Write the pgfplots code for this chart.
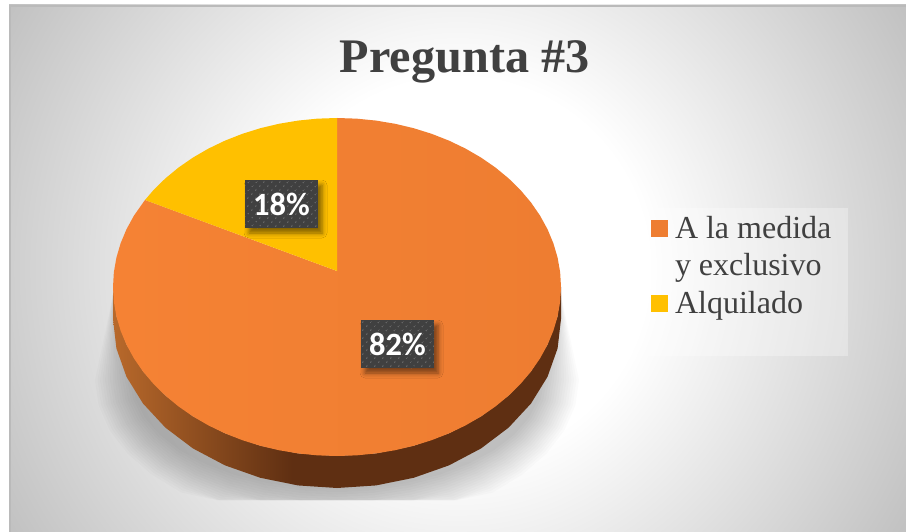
\documentclass[border=0pt]{standalone}
\usepackage{fontspec}
\setmainfont{Liberation Serif}
\newfontfamily\labfont{Carlito}
\usepackage{pgfplots}
\usepackage{pgfplotstable}
\pgfplotsset{compat=1.18}
\usetikzlibrary{patterns.meta,shadows.blur}

\definecolor{txt}{HTML}{404040}
\definecolor{orangeA}{HTML}{F58234}
\definecolor{orangeB}{HTML}{EE7D31}
\definecolor{amber}{HTML}{FFC000}
\definecolor{sideA}{HTML}{B8692B}
\definecolor{sideB}{HTML}{5F2F12}
\definecolor{labbox}{HTML}{404040}

\pgfdeclareradialshading{bgglow}{\pgfpointorigin}{color(0bp)=(white); color(9bp)=(white); color(25bp)=(black!25); color(50bp)=(black!25)}
\pgfdeclarehorizontalshading{rim}{100bp}{color(0bp)=(sideA); color(25bp)=(sideA); color(45bp)=(sideB); color(100bp)=(sideB)}

% outline rows: t = angle clockwise from the top, r = 0 at the apex, 1 on the rim
\pgfplotstableread[row sep=\\]{
t r\\ 0 0\\ 0 1\\ 5 1\\ 10 1\\ 15 1\\ 20 1\\ 25 1\\ 30 1\\ 35 1\\ 40 1\\ 45 1\\ 50 1\\ 55 1\\ 60 1\\ 65 1\\ 70 1\\ 75 1\\ 80 1\\ 85 1\\ 90 1\\ 95 1\\ 100 1\\ 105 1\\ 110 1\\ 115 1\\ 120 1\\ 125 1\\ 130 1\\ 135 1\\ 140 1\\ 145 1\\ 150 1\\ 155 1\\ 160 1\\ 165 1\\ 170 1\\ 175 1\\ 180 1\\ 185 1\\ 190 1\\ 195 1\\ 200 1\\ 205 1\\ 210 1\\ 215 1\\ 220 1\\ 225 1\\ 230 1\\ 235 1\\ 240 1\\ 245 1\\ 250 1\\ 255 1\\ 260 1\\ 265 1\\ 270 1\\ 275 1\\ 280 1\\ 285 1\\ 290 1\\ 295 1\\ 301 1\\
}\sliceA
\pgfplotstableread[row sep=\\]{
t r\\ 0 0\\ 301 1\\ 305 1\\ 310 1\\ 315 1\\ 320 1\\ 325 1\\ 330 1\\ 335 1\\ 340 1\\ 345 1\\ 350 1\\ 355 1\\ 360 1\\
}\sliceB
\pgfplotstableread[row sep=\\]{
t d\\ 90 0\\ 100 0\\ 110 0\\ 120 0\\ 130 0\\ 140 0\\ 150 0\\ 160 0\\ 170 0\\ 180 0\\ 190 0\\ 200 0\\ 210 0\\ 220 0\\ 230 0\\ 240 0\\ 250 0\\ 260 0\\ 270 0\\
270 32\\ 260 32\\ 250 32\\ 240 32\\ 230 32\\ 220 32\\ 210 32\\ 200 32\\ 190 32\\ 180 32\\ 170 32\\ 160 32\\ 150 32\\ 140 32\\ 130 32\\ 120 32\\ 110 32\\ 100 32\\ 90 32\\
}\rimrows
% w = 1 for the two tips of the shadow under the pie
\pgfplotstableread[row sep=\\]{
t w\\ 90 1\\ 90 0\\ 100 0\\ 110 0\\ 120 0\\ 130 0\\ 140 0\\ 150 0\\ 160 0\\ 170 0\\ 180 0\\ 190 0\\ 200 0\\ 210 0\\ 220 0\\ 230 0\\ 240 0\\ 250 0\\ 260 0\\ 270 0\\ 270 1\\
}\shadowrows

\begin{document}
\begin{tikzpicture}
\useasboundingbox (0,0) rectangle (906bp,532bp);
\fill[white] (0,0) rectangle (906bp,532bp);
\begin{scope}
\clip (9bp,0) rectangle (906bp,527bp);
\shade[shading=bgglow] (457.5bp,263.5bp) circle (530bp);
\end{scope}
\fill[black!27] (9bp,0) rectangle (11bp,527bp);
\fill[black!27] (9bp,525bp) rectangle (906bp,527bp);

\begin{axis}[
    at={(0,0)}, anchor=south west,
    scale only axis,
    width=906bp, height=532bp,
    xmin=0, xmax=906, ymin=0, ymax=532,
    y dir=reverse,
    hide axis,
    clip=false,
    title={Pregunta \#3},
    title style={at={(axis description cs:0.5129,0.8528)}, anchor=base, inner sep=0pt,
        font=\fontsize{48.2bp}{50bp}\selectfont\bfseries, text=txt},
    legend style={at={(axis cs:651,214)}, anchor=north west, draw=none, fill=none,
        inner sep=0pt, outer sep=0pt, row sep=11bp, column sep=5bp,
        font=\fontsize{32bp}{37bp}\selectfont, text=txt,
        cells={anchor=west, align=left}},
    legend image code/.code={
        \path (0bp,0bp) -- (17bp,0bp);
        \fill[overlay,#1] (0bp,-8.5bp) rectangle (17bp,8.5bp);},
]
% soft shadow under the pie
\pgfplotsinvokeforeach{0,...,15}{
\addplot[forget plot, fill=black, fill opacity=0.014, draw=none]
    table[x expr={337+sin(\thisrow{t})*((242-2.5*#1)*(1-\thisrow{w})+224*\thisrow{w})},
          y expr={\thisrow{w}*295+(1-\thisrow{w})*min(500,380-(147-2.5*#1)*cos(\thisrow{t}))}] {\shadowrows} --cycle;
}
% rim
\addplot[forget plot, shading=rim, draw=none]
    table[x expr={337+224*sin(\thisrow{t})}, y expr={287-169*cos(\thisrow{t})+\thisrow{d}}] {\rimrows} --cycle;
% slices
\addplot[forget plot, left color=orangeA, right color=orangeB, draw=none]
    table[x expr={337+\thisrow{r}*224*sin(\thisrow{t})}, y expr={271+\thisrow{r}*(16-169*cos(\thisrow{t}))}] {\sliceA} --cycle;
\addplot[forget plot, fill=amber, draw=none]
    table[x expr={337+\thisrow{r}*224*sin(\thisrow{t})}, y expr={271+\thisrow{r}*(16-169*cos(\thisrow{t}))}] {\sliceB} --cycle;
% legend panel
\addplot[forget plot, fill=white, fill opacity=0.3, draw=none]
    coordinates {(641,208) (848,208) (848,356) (641,356)} --cycle;

\addlegendimage{fill=orangeB, draw=none, yshift=17.5bp}
\addlegendentry{A la medida\\y exclusivo}
\addlegendimage{fill=amber, draw=none}
\addlegendentry{Alquilado}

\tikzset{pct/.style={minimum width=73bp, minimum height=48bp, inner sep=0pt,
    text=white, font=\labfont\fontsize{32.5bp}{34bp}\selectfont\bfseries,
    blur shadow={shadow xshift=4bp, shadow yshift=-5bp, shadow blur radius=5bp, shadow opacity=50},
    preaction={fill=labbox},
    pattern={Dots[radius=0.9bp, distance=6bp, angle=45]}, pattern color=white!30!labbox}}
\node[pct] at (axis cs:281.5,204) {18\%};
\node[pct] at (axis cs:397.5,344) {82\%};
\end{axis}
\end{tikzpicture}
\end{document}
